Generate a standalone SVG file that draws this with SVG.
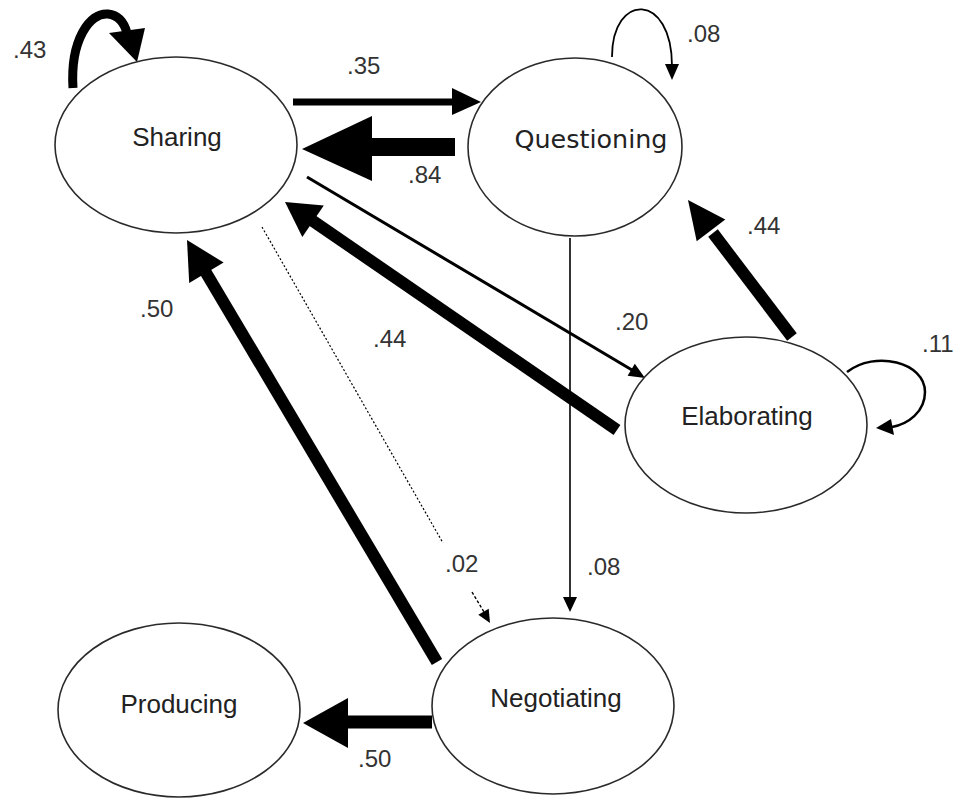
<svg xmlns="http://www.w3.org/2000/svg" width="955" height="798" viewBox="0 0 955 798">
<style>
.node ellipse{fill:#fff;stroke:#2a2a2a;stroke-width:1.6}
.node text{font-family:"Liberation Sans",Arial,sans-serif;font-size:26px;fill:#222;text-anchor:middle}
.node text.verd{font-family:"DejaVu Sans",Verdana,sans-serif;font-size:24px}
.lbl{font-family:"Liberation Sans",Arial,sans-serif;font-size:24px;fill:#333}
.ln{fill:none;stroke:#000}
.hd{fill:#000;stroke:none}
</style>
<rect width="955" height="798" fill="#fff"/>
<g id="connectors">
  <!-- Sharing self-loop .43 -->
  <path class="ln" d="M73,88 C70,40 90,12 108,14 C118,15 124,22 127,33" stroke-width="9"/>
  <polygon class="hd" points="109,33 145,28 137,62"/>
  <!-- Sharing -> Questioning .35 -->
  <line class="ln" x1="293" y1="102" x2="453" y2="102" stroke-width="7"/>
  <polygon class="hd" points="452,88 481,102 452,115"/>
  <!-- Questioning -> Sharing .84 -->
  <line class="ln" x1="455" y1="147" x2="368" y2="147" stroke-width="18"/>
  <polygon class="hd" points="372,116 302,149 372,181"/>
  <!-- Sharing -> Elaborating .20 -->
  <line class="ln" x1="307" y1="177" x2="632" y2="370" stroke-width="3"/>
  <polygon class="hd" points="627.6,375.8 634.8,363.8 645,378"/>
  <!-- Elaborating -> Sharing .44 -->
  <line class="ln" x1="617" y1="430" x2="310" y2="219" stroke-width="12"/>
  <polygon class="hd" points="323.8,205.6 302.3,236.9 285,202"/>
  <!-- Negotiating -> Sharing .50 -->
  <line class="ln" x1="437" y1="662" x2="205" y2="271" stroke-width="12"/>
  <polygon class="hd" points="223.6,262.5 189.2,282.9 187,240"/>
  <!-- Sharing -> Negotiating .02 (dotted) -->
  <line class="ln" x1="262" y1="227" x2="443" y2="543" stroke-width="1.2" stroke-dasharray="2 2"/>
  <line class="ln" x1="472" y1="592" x2="484" y2="612" stroke-width="1.4" stroke-dasharray="3 2"/>
  <polygon class="hd" points="478.3,614.7 488.7,608.7 490,623"/>
  <!-- Questioning -> Negotiating .08 -->
  <line class="ln" x1="570" y1="238" x2="570" y2="598" stroke-width="1.6"/>
  <polygon class="hd" points="563,597 577,597 570,612"/>
  <!-- Questioning self-loop .08 -->
  <path class="ln" d="M612,57 C612,-8 672,-8 672,66" stroke-width="1.8"/>
  <polygon class="hd" points="665,64 679,64 672,80"/>
  <!-- Elaborating -> Questioning .44 -->
  <line class="ln" x1="792" y1="337" x2="713" y2="233" stroke-width="12"/>
  <polygon class="hd" points="725.3,219.4 696.7,241.2 688,200"/>
  <!-- Elaborating self-loop .11 -->
  <path class="ln" d="M847,372 C875,350 925,362 925,392 C925,412 908,424 892,427" stroke-width="2.5"/>
  <polygon class="hd" points="891,419 894,435 876,428"/>
  <!-- Negotiating -> Producing .50 -->
  <line class="ln" x1="432" y1="722" x2="345" y2="722" stroke-width="13"/>
  <polygon class="hd" points="348,698 303,723 348,748"/>
</g>
<g id="labels">
  <text class="lbl" x="13" y="58">.43</text>
  <text class="lbl" x="347" y="74">.35</text>
  <text class="lbl" x="408" y="183">.84</text>
  <text class="lbl" x="687" y="42">.08</text>
  <text class="lbl" x="747" y="234">.44</text>
  <text class="lbl" x="615" y="330">.20</text>
  <text class="lbl" x="922" y="352">.11</text>
  <text class="lbl" x="373" y="347">.44</text>
  <text class="lbl" x="140" y="317">.50</text>
  <text class="lbl" x="445" y="572">.02</text>
  <text class="lbl" x="587" y="575">.08</text>
  <text class="lbl" x="358" y="767">.50</text>
</g>
<g id="sharing" class="node">
  <ellipse cx="176" cy="145" rx="121" ry="88"/>
  <text x="177" y="146">Sharing</text>
</g>
<g id="questioning" class="node">
  <ellipse cx="575" cy="147" rx="107" ry="89"/>
  <text class="verd" x="591" y="148" textLength="153" lengthAdjust="spacingAndGlyphs">Questioning</text>
</g>
<g id="elaborating" class="node">
  <ellipse cx="746" cy="425" rx="121" ry="88"/>
  <text x="747" y="425">Elaborating</text>
</g>
<g id="producing" class="node">
  <ellipse cx="179" cy="710" rx="121" ry="87"/>
  <text x="179" y="713">Producing</text>
</g>
<g id="negotiating" class="node">
  <ellipse cx="553" cy="706" rx="121" ry="88"/>
  <text x="556" y="707">Negotiating</text>
</g>
</svg>
